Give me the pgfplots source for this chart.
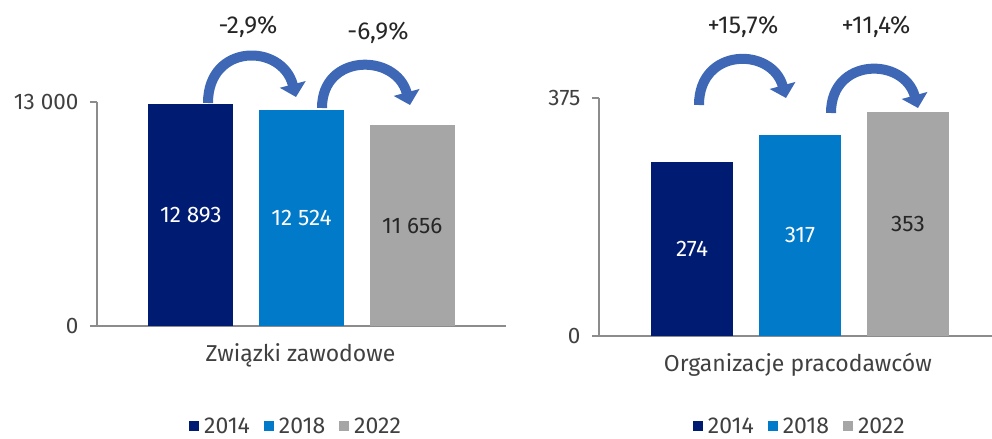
\documentclass[border=0pt]{standalone}
\usepackage{pgfplots}
\pgfplotsset{compat=1.18}
\usepackage{fontspec}
\setmainfont{Fira Sans}
\usetikzlibrary{arrows.meta}
\definecolor{cA}{RGB}{0,28,114}
\definecolor{cB}{RGB}{0,122,201}
\definecolor{cC}{RGB}{166,166,166}
\definecolor{arr}{RGB}{62,104,182}
\definecolor{axg}{RGB}{140,140,140}
\definecolor{txt}{RGB}{64,64,64}
\newcommand{\fn}{\fontsize{22.5bp}{27bp}\selectfont}
\newcommand{\fc}{\fontsize{23bp}{26bp}\selectfont}
\newcommand{\fl}{\fontsize{23bp}{26bp}\selectfont}
\newcommand{\fp}{\fontsize{24.5bp}{28bp}\selectfont}
\pgfplotsset{
  panel/.style={
    scale only axis,
    axis x line*=bottom, axis y line*=left,
    axis line style={axg,-,line width=1.2bp},
    ymin=0, xtick=\empty, scaled y ticks=false,
    tick align=outside, major tick length=7bp,
    ytick style={axg,line width=1.2bp},
    yticklabel style={font=\fn, text=txt, xshift=-8bp,
      /pgf/number format/assume math mode=true, /pgf/number format/1000 sep={\ }},
    xlabel style={font=\fc, text=txt, anchor=center},
    clip=false,
    legend columns=3,
    legend style={draw=none, fill=none, font=\fl, text=txt, anchor=center,
      /tikz/every even column/.append style={column sep=12bp}},
    legend image code/.code={\fill[##1] (0bp,-5bp) rectangle (10bp,5bp); \path (13bp,0bp);},
  },
  lab/.style={draw=none, mark=none, forget plot, nodes near coords, point meta=explicit symbolic,
    y filter/.expression={y/2},
    nodes near coords style={anchor=center, font=\fn, text=#1}},
}
\begin{document}
\begin{tikzpicture}
\useasboundingbox (0bp,0bp) rectangle (992bp,439bp);
% left panel
\begin{axis}[panel, at={(97bp,113bp)}, anchor=south west,
  width=409bp, height=224bp, ymax=13000,
  xmin=0.153, xmax=3.847,
  ytick={0,13000},
  xlabel={Związki zawodowe},
  xlabel style={at={(axis description cs:0.4975,-0.1295)}},
  legend style={at={(axis description cs:0.4866,-0.447)}}]
\addplot[ybar, bar width=85bp, bar shift=0pt, fill=cA, draw=none] coordinates {(1,12893)};
\addlegendentry{2014}
\addplot[ybar, bar width=85bp, bar shift=0pt, fill=cB, draw=none] coordinates {(2,12524)};
\addlegendentry{2018}
\addplot[ybar, bar width=85bp, bar shift=0pt, fill=cC, draw=none] coordinates {(3,11656)};
\addlegendentry{2022}
\addplot[lab=white] coordinates {(1,12893) [12 893]};
\addplot[lab=white] coordinates {(2,12524) [12 524]};
\addplot[lab=black!85] coordinates {(3,11656) [11 656]};
\end{axis}
% right panel
\begin{axis}[panel, at={(599bp,103bp)}, anchor=south west,
  width=393bp, height=238bp, ymax=375,
  xmin=0.139, xmax=3.778,
  ytick={0,375},
  xlabel={Organizacje pracodawców},
  xlabel style={at={(axis description cs:0.506,-0.122)}},
  legend style={at={(axis description cs:0.511,-0.38)}}]
\addplot[ybar, bar width=82bp, bar shift=0pt, fill=cA, draw=none] coordinates {(1,274)};
\addlegendentry{2014}
\addplot[ybar, bar width=82bp, bar shift=0pt, fill=cB, draw=none] coordinates {(2,317)};
\addlegendentry{2018}
\addplot[ybar, bar width=82bp, bar shift=0pt, fill=cC, draw=none] coordinates {(3,353)};
\addlegendentry{2022}
\addplot[lab=white] coordinates {(1,274) [274]};
\addplot[lab=white] coordinates {(2,317) [317]};
\addplot[lab=black!85] coordinates {(3,353) [353]};
\end{axis}
% arrows
\begin{scope}[x=1bp,y=1bp, arr, line width=10bp, -{Triangle[width=26bp,length=13bp]}]
\draw (208,336) .. controls (208,396) and (282,396) .. (296,342);
\draw (322,331) .. controls (322,386) and (396,386) .. (410,334);
\draw (699,334) .. controls (699,392) and (772,392) .. (786,341);
\draw (831,326) .. controls (831,382) and (904,382) .. (918,331);
\end{scope}
\begin{scope}[x=1bp,y=1bp, every node/.style={font=\fp, text=black!85}]
\node at (248,412) {-2,9\%};
\node at (378,406) {-6,9\%};
\node at (743,412) {+15,7\%};
\node at (876,412) {+11,4\%};
\end{scope}
\end{tikzpicture}
\end{document}
